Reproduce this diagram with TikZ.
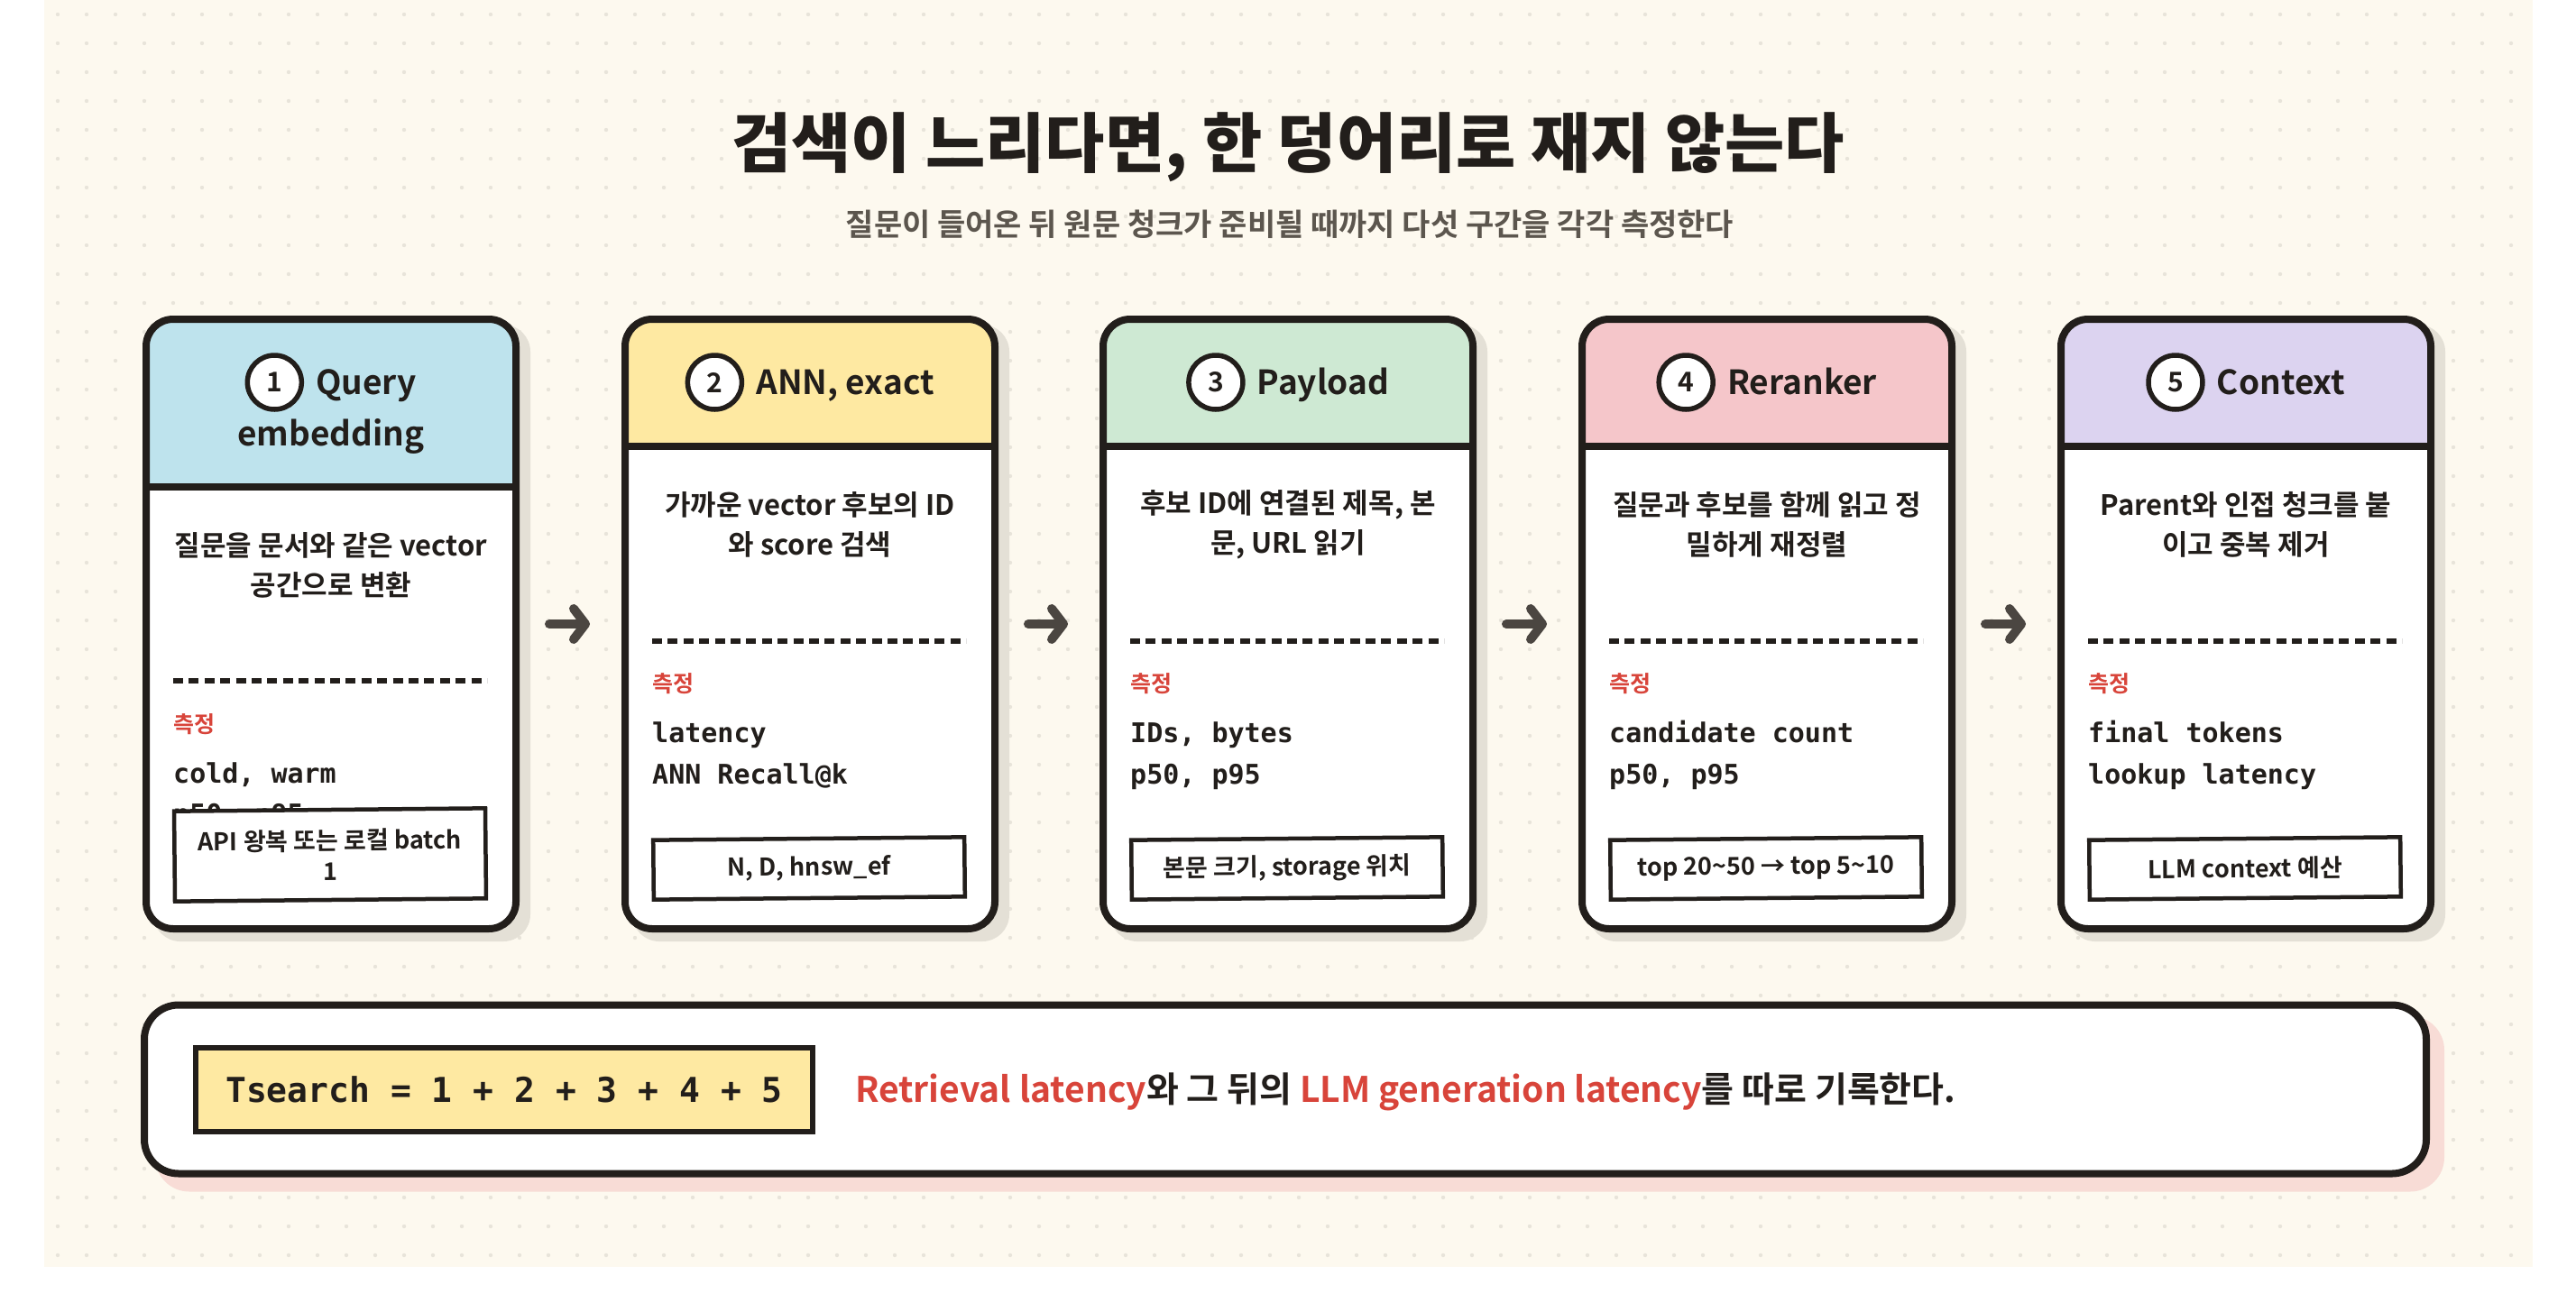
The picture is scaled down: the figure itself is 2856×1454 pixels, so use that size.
\documentclass[tikz,border=0pt]{standalone}
\usepackage{fontspec}
\setmainfont{Noto Sans CJK KR}[BoldFont={Noto Sans CJK KR Bold}]
\newfontfamily\heavy{Noto Sans CJK KR Black}
\setmonofont{DejaVu Sans Mono}
\usetikzlibrary{arrows.meta,positioning}
\definecolor{ink}{RGB}{34,30,27}
\definecolor{paper}{RGB}{253,249,239}
\definecolor{dotc}{RGB}{232,228,218}
\definecolor{shade}{RGB}{228,224,214}
\definecolor{pinkshade}{RGB}{248,220,214}
\definecolor{arrowc}{RGB}{75,70,65}
\definecolor{hot}{RGB}{216,68,58}
\definecolor{sub}{RGB}{92,86,78}
\definecolor{H1}{RGB}{190,227,237}
\definecolor{H2}{RGB}{254,233,162}
\definecolor{H3}{RGB}{206,233,211}
\definecolor{H4}{RGB}{245,198,202}
\definecolor{H5}{RGB}{220,211,240}

\begin{document}
\begin{tikzpicture}[x=1pt,y=-1pt,
    card/.style 2 args={draw=ink, line width=8pt, fill=white, rounded corners=30pt,
      minimum width=410pt, minimum height=676pt, inner sep=0pt, outer sep=0pt,
      path picture={\fill[#1, sharp corners] (path picture bounding box.north west) rectangle ([yshift=-#2]path picture bounding box.north east);
        \draw[ink, line width=8pt, sharp corners] ([yshift=-#2]path picture bounding box.north west) -- ([yshift=-#2]path picture bounding box.north east);}},
    cardshadow/.style={fill=shade, rounded corners=30pt, minimum width=418pt, minimum height=684pt, inner sep=0pt},
    head/.style={text=ink, inner sep=0pt, text height=26pt, text depth=0pt, font=\fontsize{37}{40}\selectfont\bfseries},
    num/.style={circle, draw=ink, line width=5.5pt, fill=white, minimum size=60pt, inner sep=0pt, text=ink, font=\fontsize{30}{30}\selectfont\bfseries},
    desc/.style={align=center, text=ink, inner sep=0pt, font=\fontsize{31}{44}\selectfont\bfseries},
    measure/.style={anchor=base west, inner sep=0pt, text=hot, font=\fontsize{25}{25}\selectfont\bfseries},
    code/.style={anchor=base west, inner sep=0pt, text=ink, font=\fontsize{30}{30}\selectfont\ttfamily\bfseries},
    sep/.style={ink, line width=6.5pt, dash pattern=on 11pt off 6.4pt},
    tag/.style={draw=ink, line width=4.5pt, fill=white, minimum width=345pt, minimum height=66pt, inner sep=0pt,
      rotate=0.55, align=center, text=ink, font=\fontsize{27}{34}\selectfont\bfseries},
    flow/.style={arrowc, line width=10pt, line cap=round, -{Straight Barb[length=13pt,width=34pt,round]},
      shorten <=37pt, shorten >=39pt}]
\useasboundingbox (0,0) rectangle (2856,1454);
\fill[paper] (49,0) rectangle (2808,1405);
\foreach \i in {0,...,85} {\foreach \j in {0,...,43} {\fill[dotc] (64+32*\i,16+32*\j) circle (2.2pt);}}

\node[anchor=base, text=ink, font=\fontsize{72}{72}\selectfont\heavy] (title) at (1428,185) {검색이 느리다면, 한 덩어리로 재지 않는다};
\node[anchor=base, text=sub, font=\fontsize{34}{34}\selectfont\bfseries] (subtitle) at (1430,261) {질문이 들어온 뒤 원문 청크가 준비될 때까지 다섯 구간을 각각 측정한다};

\node[cardshadow] (s1) at (379,702) {};
\node[cardshadow] (s2) at (910,702) {};
\node[cardshadow] (s3) at (1440,702) {};
\node[cardshadow] (s4) at (1971,702) {};
\node[cardshadow] (s5) at (2502,702) {};
\node[card={H1}{186pt}] (q1) at (367,692) {};
\node[card={H2}{141pt}] (q2) at (898,692) {};
\node[card={H3}{141pt}] (q3) at (1428,692) {};
\node[card={H4}{141pt}] (q4) at (1959,692) {};
\node[card={H5}{141pt}] (q5) at (2490,692) {};

\draw[flow] (q1) -- (q2);
\draw[flow] (q2) -- (q3);
\draw[flow] (q3) -- (q4);
\draw[flow] (q4) -- (q5);

\node[head] (t1) at (406,424) {Query};
\node[num, left=13pt of t1] (n1) {1};
\node[head] (t1b) at (367,481) {embedding};
\node[head] (t2) at (937,424) {ANN, exact};
\node[num, left=13pt of t2] (n2) {2};
\node[head] (t3) at (1467,424) {Payload};
\node[num, left=13pt of t3] (n3) {3};
\node[head] (t4) at (1998,424) {Reranker};
\node[num, left=13pt of t4] (n4) {4};
\node[head] (t5) at (2529,424) {Context};
\node[num, left=13pt of t5] (n5) {5};

\node[desc] (d1) at (367,627) {질문을 문서와 같은 vector\\공간으로 변환};
\node[desc] (d2) at (898,582) {가까운 vector 후보의 ID\\와 score 검색};
\node[desc] (d3) at (1428,582) {후보 ID에 연결된 제목, 본\\문, URL 읽기};
\node[desc] (d4) at (1959,582) {질문과 후보를 함께 읽고 정\\밀하게 재정렬};
\node[desc] (d5) at (2490,582) {Parent와 인접 청크를 붙\\이고 중복 제거};

\draw[sep] (192,755) -- (540,755);
\draw[sep] (723,711) -- (1071,711);
\draw[sep] (1253,711) -- (1601,711);
\draw[sep] (1784,711) -- (2132,711);
\draw[sep] (2315,711) -- (2663,711);

\node[measure] (m1) at (192,812) {측정};
\node[code] (a1) at (192,868) {cold, warm};
\node[code] (b1) at (192,913) {p50, p95};
\node[measure] (m2) at (723,767) {측정};
\node[code] (a2) at (723,823) {latency};
\node[code] (b2) at (723,869) {ANN Recall@k};
\node[measure] (m3) at (1253,767) {측정};
\node[code] (a3) at (1253,823) {IDs, bytes};
\node[code] (b3) at (1253,869) {p50, p95};
\node[measure] (m4) at (1784,767) {측정};
\node[code] (a4) at (1784,823) {candidate count};
\node[code] (b4) at (1784,869) {p50, p95};
\node[measure] (m5) at (2315,767) {측정};
\node[code] (a5) at (2315,823) {final tokens};
\node[code] (b5) at (2315,869) {lookup latency};

\node[tag, minimum height=100pt] (g1) at (366,948) {API 왕복 또는 로컬 batch\\1};
\node[tag] (g2) at (897,963) {N, D, hnsw\_ef};
\node[tag] (g3) at (1427,963) {본문 크기, storage 위치};
\node[tag] (g4) at (1958,963) {top 20{\char"7E}50 → top 5{\char"7E}10};
\node[tag] (g5) at (2489,963) {LLM context 예산};

\node[fill=pinkshade, rounded corners=38pt, minimum width=2538pt, minimum height=195pt, inner sep=0pt] (barshadow) at (1441,1224) {};
\node[draw=ink, line width=8pt, fill=white, rounded corners=38pt, minimum width=2530pt, minimum height=187pt, inner sep=0pt] (bar) at (1425,1208) {};
\node[draw=ink, line width=6pt, fill=H2, minimum width=684pt, minimum height=93pt, inner sep=0pt, text=ink,
  font=\fontsize{38}{38}\selectfont\ttfamily\bfseries] (tsum) at (559,1208) {Tsearch = 1 + 2 + 3 + 4 + 5};
\node[anchor=base west, inner sep=0pt, text=ink, font=\fontsize{39}{39}\selectfont\bfseries] (note) at (948,1222)
  {\textcolor{hot}{Retrieval latency}와 그 뒤의 \textcolor{hot}{LLM generation latency}를 따로 기록한다.};
\end{tikzpicture}
\end{document}
